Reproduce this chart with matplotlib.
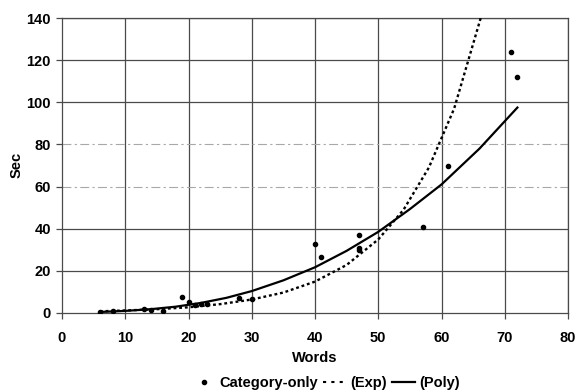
import matplotlib
matplotlib.use("Agg")
import matplotlib.pyplot as plt
from matplotlib.lines import Line2D

plt.rcParams['font.family'] = ['Liberation Sans', 'DejaVu Sans']

# Observed data (Category-only)
words = [6, 8, 13, 14, 16, 19, 20, 21, 22, 23, 28, 30, 40, 41, 47, 47, 47, 57, 61, 71, 72]
secs = [0.6, 1.0, 1.9, 1.6, 1.1, 7.7, 5.2, 3.8, 4.4, 4.3, 7.3, 6.7, 32.8, 26.8, 37.0, 30.8, 30.0, 40.8, 70.0, 124.0, 112.0]

# Trendline readings (Exp)
exp_x = [6, 10, 15, 20, 25, 30, 35, 40, 45, 50, 54, 58, 62, 66.2]
exp_y = [0.8, 1.2, 1.8, 2.7, 4.2, 6.4, 9.7, 14.9, 22.8, 34.9, 49.0, 69.0, 97.0, 140.0]

# Trendline readings (Poly)
poly_x = [6, 10, 14, 18, 22, 26, 30, 35, 40, 45, 50, 55, 60, 66, 72]
poly_y = [0.5, 1.0, 1.8, 3.0, 4.8, 7.2, 10.4, 15.5, 21.7, 29.5, 38.5, 49.3, 61.0, 78.0, 97.5]

x_ticks = [0, 10, 20, 30, 40, 50, 60, 70, 80]
y_ticks = [0, 20, 40, 60, 80, 100, 120, 140]

fig = plt.figure(figsize=(5.78, 3.92), dpi=100)
ax = fig.add_axes([62/578, 1 - 313/392, (568 - 62)/578, (313 - 18)/392])

ax.set_xlim(0, 80)
ax.set_ylim(0, 140)
ax.set_xticks(x_ticks)
ax.set_yticks(y_ticks)

grid_col = '#4a4a4a'
for xv in x_ticks[1:]:
    ax.axvline(xv, color=grid_col, lw=0.9, zorder=1)
for yv in y_ticks[1:]:
    if yv in (60, 80):
        ax.axhline(yv, color='#a8a8a8', lw=0.8, ls=(0, (8, 3, 2, 3)), zorder=1)
    else:
        ax.axhline(yv, color=grid_col, lw=0.9, zorder=1)

for s in ax.spines.values():
    s.set_color(grid_col)
    s.set_linewidth(0.9)

ax.plot(exp_x, exp_y, color='black', lw=1.7, ls=(0, (1.2, 1.2)), zorder=3, label='(Exp)')
ax.plot(poly_x, poly_y, color='black', lw=1.6, zorder=3, label='(Poly)')
ax.plot(words, secs, 'o', color='black', ms=3.0, zorder=4, label='Category-only')

ax.tick_params(axis='both', direction='out', length=4, width=0.9, color=grid_col,
               labelsize=10.5, labelcolor='black')
ax.tick_params(axis='x', pad=9)
ax.tick_params(axis='y', pad=4)
for lab in ax.get_xticklabels() + ax.get_yticklabels():
    lab.set_fontweight('bold')

ax.set_xlabel('Words', fontsize=10.5, fontweight='bold')
ax.xaxis.set_label_coords(0.5, -(358 - 313) / 295, transform=ax.transAxes)
ax.xaxis.label.set_va('center')
ax.set_ylabel('Sec', fontsize=10.5, fontweight='bold')
ax.yaxis.set_label_coords(-(62 - 17) / 506, (313 - 165) / 295, transform=ax.transAxes)
ax.yaxis.label.set_va('center')

handles = [
    Line2D([], [], marker='o', color='black', ls='none', ms=3.0),
    Line2D([], [], color='black', lw=1.5, ls=(0, (1.5, 2.5))),
    Line2D([], [], color='black', lw=1.6),
]
labels = ['Category-only', '(Exp)', '(Poly)']
fig.legend(handles, labels, loc='center', bbox_to_anchor=(326/578, 1 - 383/392),
           ncol=3, frameon=False, handlelength=1.6, handletextpad=0.3,
           columnspacing=0.3, borderaxespad=0, borderpad=0,
           prop={'weight': 'bold', 'size': 10.5})

fig.savefig('out.png', dpi=100)
